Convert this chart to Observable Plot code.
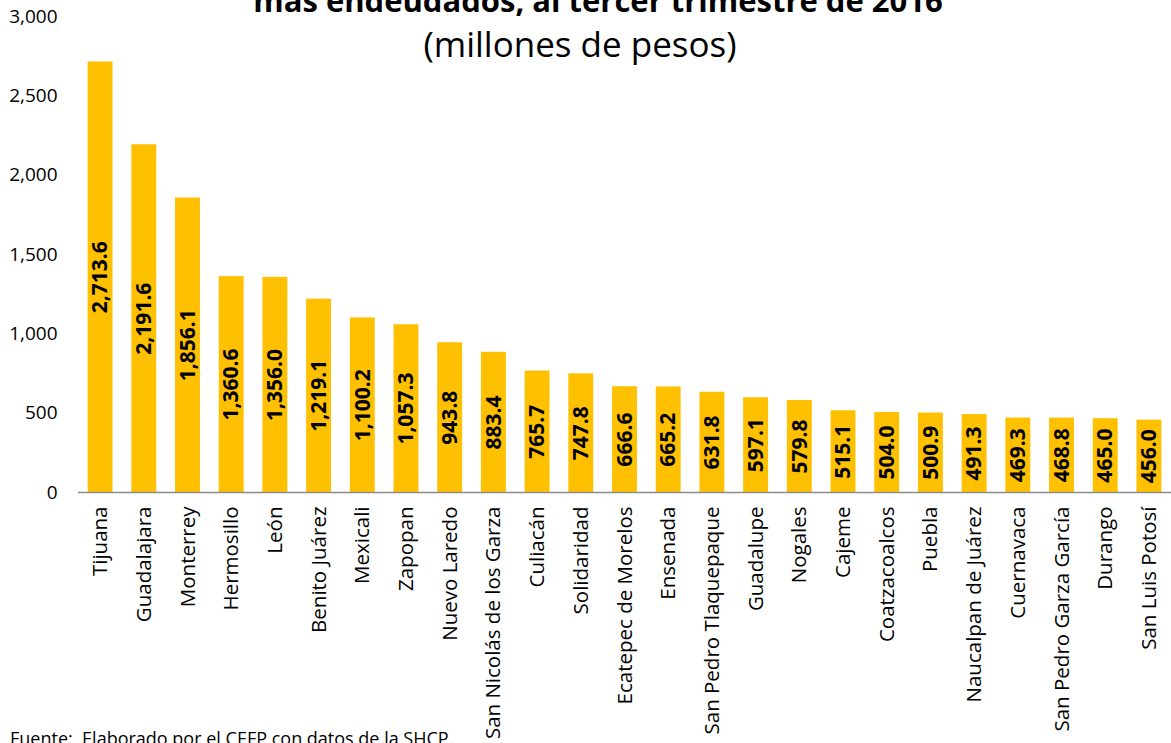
<!DOCTYPE html>
<html>
<head>
<meta charset="utf-8">
<script src="https://cdn.jsdelivr.net/npm/d3@7"></script>
<script src="https://cdn.jsdelivr.net/npm/@observablehq/plot@0.6"></script>
<style>
  body { margin: 0; background: #fff; font-family: "Open Sans", sans-serif; }
  #wrap { position: relative; width: 1171px; height: 743px; overflow: hidden; }
  #title { position: absolute; left: 0; width: 1196px; text-align: center; top: -20px; font-size: 31px; line-height: 40px; font-weight: bold; color: #000; white-space: nowrap; }
  #subtitle { position: absolute; left: 0; width: 1160px; text-align: center; top: 22px; font-size: 35px; line-height: 44px; color: #000; }
  #source { position: absolute; left: 10px; top: 726px; font-size: 18px; line-height: 24px; color: #000; white-space: nowrap; }
  #chart { position: absolute; left: 0; top: 0; }
</style>
</head>
<body>
<div id="wrap">
  <div id="chart"></div>
  <div id="title">más endeudados, al tercer trimestre de 2016</div>
  <div id="subtitle">(millones de pesos)</div>
  <div id="source">Fuente:&nbsp; Elaborado por el CEFP con datos de la SHCP.</div>
</div>
<script>
const municipios = ["Tijuana","Guadalajara","Monterrey","Hermosillo","León","Benito Juárez","Mexicali","Zapopan","Nuevo Laredo","San Nicolás de los Garza","Culiacán","Solidaridad","Ecatepec de Morelos","Ensenada","San Pedro Tlaquepaque","Guadalupe","Nogales","Cajeme","Coatzacoalcos","Puebla","Naucalpan de Juárez","Cuernavaca","San Pedro Garza García","Durango","San Luis Potosí"];
const deuda = [2713.6,2191.6,1856.1,1360.6,1356.0,1219.1,1100.2,1057.3,943.8,883.4,765.7,747.8,666.6,665.2,631.8,597.1,579.8,515.1,504.0,500.9,491.3,469.3,468.8,465.0,456.0];
const yTicks = [0,500,1000,1500,2000,2500,3000];

const data = municipios.map((m, i) => ({municipio: m, valor: deuda[i]}));
const fmt = d3.format(",.1f");

const chart = Plot.plot({
  width: 1171,
  height: 743,
  marginTop: 16,
  marginBottom: 251,
  marginLeft: 78,
  marginRight: 0,
  style: { fontFamily: "Open Sans, sans-serif", fontSize: "19px", color: "#000", background: "transparent" },
  x: { domain: municipios, paddingInner: 0.43, paddingOuter: 0.22, round: false, label: null },
  y: { domain: [0, 3000], label: null },
  marks: [
    Plot.barY(data, { x: "municipio", y: "valor", fill: "#FFC000" }),
    Plot.ruleY([0], { stroke: "#8c8c8c", strokeWidth: 1.3 }),
    Plot.text(data, { x: "municipio", y: d => d.valor / 2, text: d => fmt(d.valor), rotate: -90, fontWeight: "bold", fontSize: 21, fill: "#000" }),
    Plot.axisY({ ticks: yTicks, tickFormat: d3.format(","), tickSize: 0, tickPadding: 21, fontSize: 19, label: null }),
    Plot.axisX({ tickRotate: -90, tickSize: 0, tickPadding: 14, fontSize: 20.5, label: null })
  ]
});
document.getElementById("chart").appendChild(chart);
</script>
</body>
</html>
